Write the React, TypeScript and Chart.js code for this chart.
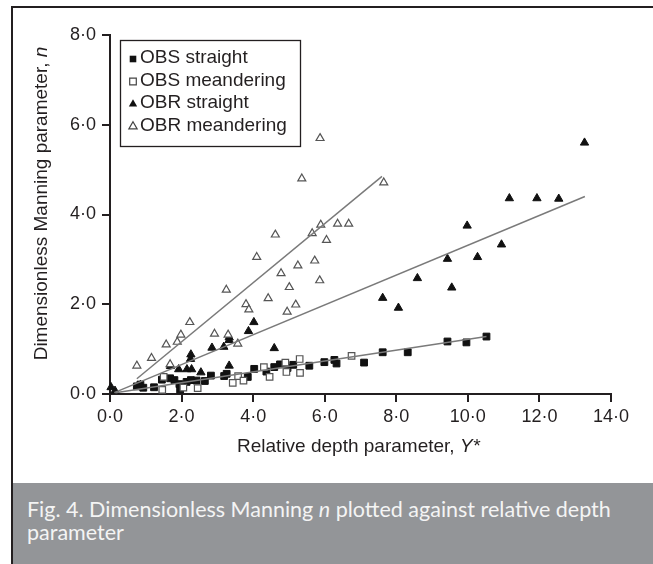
import React, { useEffect, useRef } from 'react';
import { Chart, registerables } from 'chart.js';

Chart.register(...registerables);

// ---------- data (Y*, n) ----------
const obsStraight: [number, number][] = [
  [0.75, 0.17], [0.85, 0.21], [0.93, 0.14], [1.23, 0.15], [1.45, 0.32], [1.68, 0.35],
  [1.8, 0.31], [1.94, 0.22], [1.96, 0.1], [2.14, 0.27], [2.26, 0.31], [2.42, 0.3],
  [2.65, 0.29], [2.82, 0.41], [3.19, 0.4], [3.26, 0.45], [3.85, 0.38], [4.03, 0.56],
  [4.37, 0.5], [4.59, 0.6], [4.75, 0.66], [4.96, 0.58], [5.12, 0.65], [5.57, 0.63],
  [5.99, 0.71], [6.27, 0.76], [6.33, 0.68], [7.1, 0.7], [7.62, 0.93], [8.32, 0.93],
  [9.43, 1.17], [9.96, 1.15], [10.52, 1.28],
];
const obsMeandering: [number, number][] = [
  [1.46, 0.09], [1.5, 0.38], [2.05, 0.14], [2.45, 0.13], [3.43, 0.25], [3.58, 0.4],
  [3.73, 0.3], [4.3, 0.6], [4.46, 0.38], [4.9, 0.7], [4.93, 0.49], [5.3, 0.78],
  [5.31, 0.47], [6.75, 0.85],
];
const obrStraight: [number, number][] = [
  [0.03, 0.15], [0.14, 0.07], [0.85, 0.2], [1.69, 0.62], [1.92, 0.55], [2.15, 0.55],
  [2.25, 0.78], [2.26, 0.88], [2.28, 0.55], [2.54, 0.48], [2.85, 1.03], [3.18, 1.05],
  [3.33, 1.2], [3.33, 1.26], [3.33, 0.63], [3.87, 1.4], [4.02, 1.6], [4.59, 1.02],
  [7.62, 2.14], [8.06, 1.92], [8.59, 2.58], [9.43, 3.01], [9.55, 2.37], [9.98, 3.75],
  [10.27, 3.05], [10.94, 3.33], [11.16, 4.36], [11.93, 4.36], [12.54, 4.35], [13.26, 5.6],
];
const obrMeandering: [number, number][] = [
  [0.75, 0.63], [1.16, 0.8], [1.57, 1.1], [1.68, 0.66], [1.88, 1.16], [1.98, 1.32],
  [2.23, 1.6], [2.92, 1.34], [3.25, 2.32], [3.3, 1.32], [3.57, 1.12], [3.8, 2.0],
  [3.88, 1.88], [4.1, 3.05], [4.42, 2.13], [4.62, 3.55], [4.78, 2.69], [4.95, 1.83],
  [5.01, 2.38], [5.19, 1.99], [5.25, 2.86], [5.36, 4.8], [5.65, 3.58], [5.72, 2.97],
  [5.86, 2.53], [5.87, 5.7], [5.89, 3.77], [6.05, 3.43], [6.36, 3.79], [6.67, 3.79],
  [7.65, 4.71],
];

// fitted trend lines (end points)
const obsFit: [number, number][] = [[0.15, 0.03], [10.52, 1.28]];
const obrStraightFit: [number, number][] = [[0.12, 0.03], [13.27, 4.4]];
const obrMeanderingFit: [number, number][] = [[0.75, 0.34], [7.6, 4.85]];

const seriesNames = ['OBS straight', 'OBS meandering', 'OBR straight', 'OBR meandering'];
const xTickLabels = ['0·0', '2·0', '4·0', '6·0', '8·0', '10·0', '12·0', '14·0'];
const yTickLabels = ['0·0', '2·0', '4·0', '6·0', '8·0'];
const xTitle = ['Relative depth parameter, ', 'Y*'];
const yTitle = ['Dimensionless Manning parameter, ', 'n'];
const captionMain = 'Fig. 4. Dimensionless Manning ';
const captionItalic = 'n';
const captionRest = ' plotted against relative depth';
const captionLine2 = 'parameter';

const INK = '#231f20';
const FONT = '"Liberation Sans", Arial, sans-serif';

const toPts = (a: [number, number][]) => a.map(([x, y]) => ({ x, y }));

function drawMarker(ctx: CanvasRenderingContext2D, kind: number, x: number, y: number) {
  ctx.save();
  ctx.lineWidth = 1.2;
  if (kind === 0 || kind === 1) {
    const s = 3.3;
    ctx.beginPath();
    ctx.rect(x - s, y - s, 2 * s, 2 * s);
    if (kind === 0) { ctx.fillStyle = '#111'; ctx.fill(); }
    else { ctx.fillStyle = '#fff'; ctx.fill(); ctx.strokeStyle = '#444'; ctx.stroke(); }
  } else {
    const r = 4.8;
    ctx.beginPath();
    ctx.moveTo(x, y - r);
    ctx.lineTo(x + r * 0.866, y + r * 0.5);
    ctx.lineTo(x - r * 0.866, y + r * 0.5);
    ctx.closePath();
    if (kind === 2) { ctx.fillStyle = '#111'; ctx.fill(); }
    else { ctx.fillStyle = '#fff'; ctx.fill(); ctx.strokeStyle = '#444'; ctx.stroke(); }
  }
  ctx.restore();
}

const overlayPlugin = {
  id: 'overlay',
  afterDraw(chart: any) {
    const ctx: CanvasRenderingContext2D = chart.ctx;
    const { left, right, top, bottom } = chart.chartArea;
    ctx.save();
    ctx.fillStyle = INK;
    ctx.textBaseline = 'middle';

    // x-axis title
    ctx.font = `19px ${FONT}`;
    const w1 = ctx.measureText(xTitle[0]).width;
    ctx.font = `italic 19px ${FONT}`;
    const w2 = ctx.measureText(xTitle[1]).width;
    const cx = (left + right) / 2 - 2;
    let sx = cx - (w1 + w2) / 2;
    const ty = 447;
    ctx.textAlign = 'left';
    ctx.font = `19px ${FONT}`;
    ctx.fillText(xTitle[0], sx, ty);
    ctx.font = `italic 19px ${FONT}`;
    ctx.fillText(xTitle[1], sx + w1, ty);

    // y-axis title (rotated)
    ctx.save();
    ctx.translate(42, (top + bottom) / 2 - 11);
    ctx.rotate(-Math.PI / 2);
    ctx.font = `19px ${FONT}`;
    const v1 = ctx.measureText(yTitle[0]).width;
    ctx.font = `italic 19px ${FONT}`;
    const v2 = ctx.measureText(yTitle[1]).width;
    sx = -(v1 + v2) / 2;
    ctx.font = `19px ${FONT}`;
    ctx.fillText(yTitle[0], sx, 0);
    ctx.font = `italic 19px ${FONT}`;
    ctx.fillText(yTitle[1], sx + v1, 0);
    ctx.restore();

    // legend box
    const bx = 120.5, by = 40.5, bw = 180, bh = 106;
    ctx.fillStyle = '#fff';
    ctx.fillRect(bx, by, bw, bh);
    ctx.strokeStyle = INK;
    ctx.lineWidth = 1.3;
    ctx.strokeRect(bx, by, bw, bh);
    ctx.font = `19px ${FONT}`;
    seriesNames.forEach((name, i) => {
      const yy = 58 + i * 22.5;
      drawMarker(ctx, i, 133, yy + 1);
      ctx.fillStyle = INK;
      ctx.textAlign = 'left';
      ctx.fillText(name, 140, yy);
    });
    ctx.restore();
  },
};

export default function App() {
  const ref = useRef<HTMLCanvasElement>(null);
  useEffect(() => {
    if (!ref.current) return;
    const fitStyle = { showLine: true, pointRadius: 0, borderColor: '#7a7a7a', borderWidth: 1.5, backgroundColor: 'transparent', clip: false as any };
    const chart = new Chart(ref.current, {
      type: 'scatter',
      data: {
        datasets: [
          { label: 'fit1', data: toPts(obsFit), ...fitStyle },
          { label: 'fit2', data: toPts(obrStraightFit), ...fitStyle },
          { label: 'fit3', data: toPts(obrMeanderingFit), ...fitStyle },
          { label: seriesNames[3], data: toPts(obrMeandering), pointStyle: 'triangle', pointRadius: 4.6, backgroundColor: '#fff', borderColor: '#555', borderWidth: 1.2, clip: false as any },
          { label: seriesNames[1], data: toPts(obsMeandering), pointStyle: 'rect', pointRadius: 4.6, backgroundColor: '#fff', borderColor: '#555', borderWidth: 1.2, clip: false as any },
          { label: seriesNames[2], data: toPts(obrStraight), pointStyle: 'triangle', pointRadius: 4.8, backgroundColor: '#111', borderColor: '#111', borderWidth: 1, clip: false as any },
          { label: seriesNames[0], data: toPts(obsStraight), pointStyle: 'rect', pointRadius: 4.8, backgroundColor: '#111', borderColor: '#111', borderWidth: 1, clip: false as any },
        ],
      },
      options: {
        animation: false,
        responsive: false,
        maintainAspectRatio: false,
        events: [],
        layout: { padding: { left: 0, top: 35, right: 42, bottom: 0 } },
        plugins: { legend: { display: false }, tooltip: { enabled: false } },
        scales: {
          x: {
            type: 'linear',
            min: 0,
            max: 14,
            ticks: {
              stepSize: 2,
              padding: 4,
              color: INK,
              font: { family: FONT, size: 18 },
              maxRotation: 0,
              callback: (v: any) => xTickLabels[Math.round(Number(v) / 2)] ?? '',
            },
            grid: { display: true, drawOnChartArea: false, drawTicks: true, tickLength: 8, color: INK, lineWidth: 2 },
            border: { display: true, color: INK, width: 2 },
            afterFit: (s: any) => { s.height = 89; },
          },
          y: {
            type: 'linear',
            min: 0,
            max: 8,
            ticks: {
              stepSize: 2,
              padding: 6,
              color: INK,
              font: { family: FONT, size: 18 },
              callback: (v: any) => yTickLabels[Math.round(Number(v) / 2)] ?? '',
            },
            grid: { display: true, drawOnChartArea: false, drawTicks: true, tickLength: 8, color: INK, lineWidth: 2 },
            border: { display: true, color: INK, width: 2 },
            afterFit: (s: any) => { s.width = 110; },
          },
        },
      },
      plugins: [overlayPlugin],
    });
    return () => chart.destroy();
  }, []);

  return (
    <div style={{ position: 'absolute', left: 0, top: 0, width: 653, height: 564, background: '#fff', overflow: 'hidden' }}>
      <canvas ref={ref} width={653} height={483} style={{ position: 'absolute', left: 0, top: 0, width: 653, height: 483 }} />
      <div style={{ position: 'absolute', left: 11, top: 6, width: 642, height: 558, borderLeft: `2px solid ${INK}`, borderTop: `2px solid ${INK}`, pointerEvents: 'none' }} />
      <div
        style={{
          position: 'absolute', left: 13, top: 483, width: 640, height: 81, background: '#939598',
          color: '#f4f4f4', fontFamily: 'Lato, "Open Sans", sans-serif', fontSize: 21.5, lineHeight: '23px',
          paddingLeft: 14, paddingTop: 15, boxSizing: 'border-box', whiteSpace: 'nowrap',
        }}
      >
        {captionMain}<i>{captionItalic}</i>{captionRest}<br />{captionLine2}
      </div>
    </div>
  );
}
